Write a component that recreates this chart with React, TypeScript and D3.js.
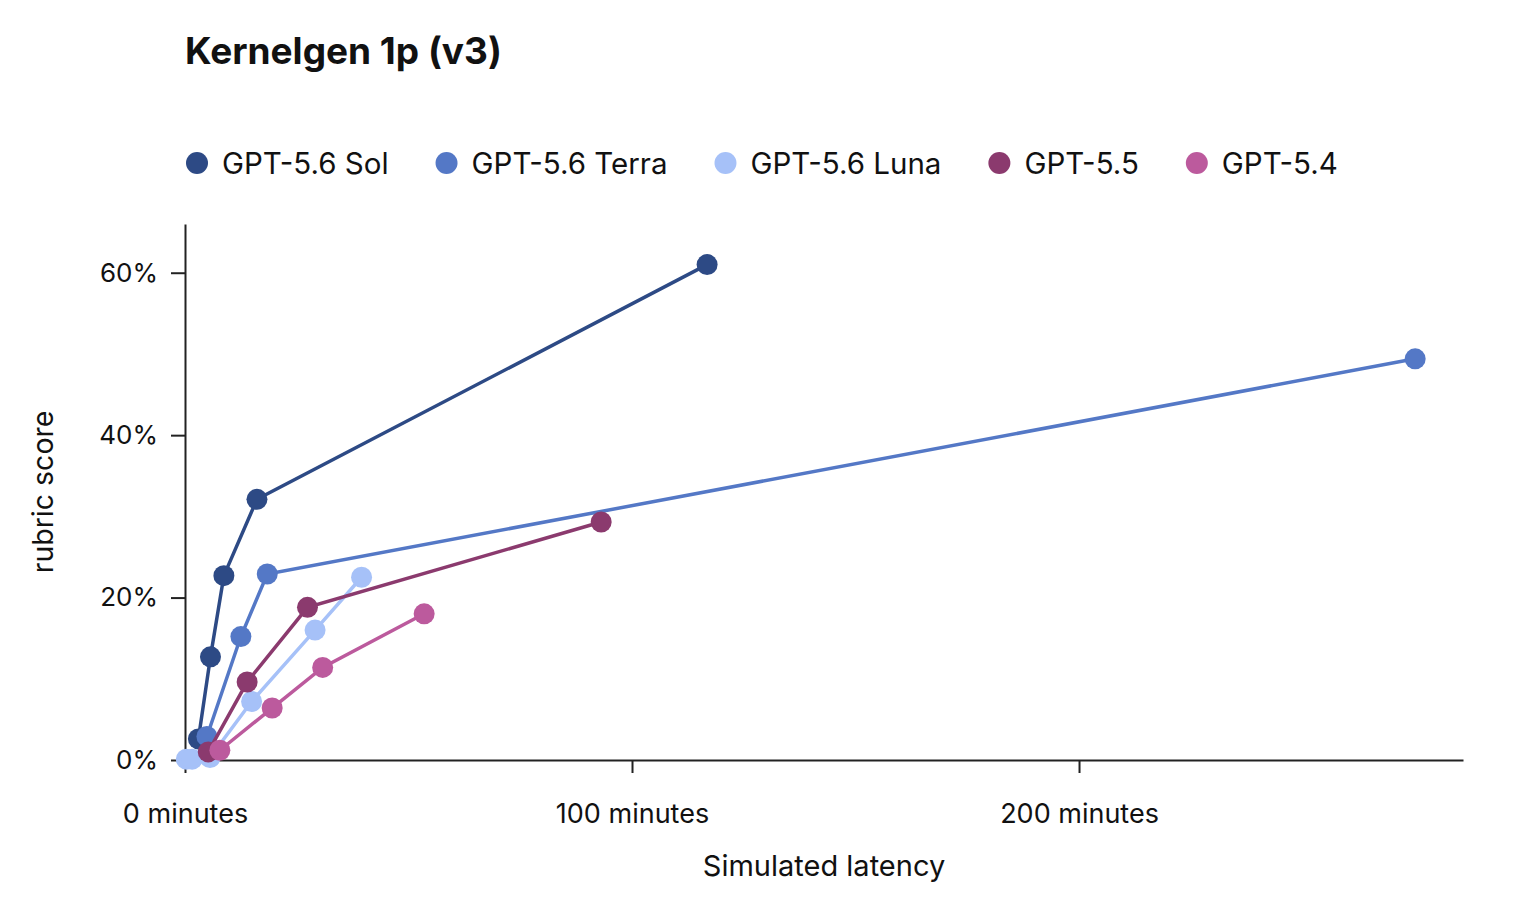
import * as d3 from "d3";
import { useEffect, useRef } from "react";

// Series data (minutes, rubric %)
const seriesNames = ["GPT-5.6 Sol", "GPT-5.6 Terra", "GPT-5.6 Luna", "GPT-5.5", "GPT-5.4"];
const seriesColors = ["#2D4A85", "#5478C6", "#A6C1F8", "#8B3A6E", "#BC5A9D"];

const solMinutes = [3.0, 5.7, 8.7, 16.1, 116.8];
const solScore = [2.6, 12.7, 22.7, 32.1, 61.0];
const terraMinutes = [4.9, 12.5, 18.4, 275.2];
const terraScore = [2.9, 15.2, 22.9, 49.4];
const lunaMinutes = [0.3, 1.6, 5.6, 14.9, 29.1, 39.5];
const lunaScore = [0.1, 0.1, 0.3, 7.2, 16.0, 22.5];
const gpt55Minutes = [5.2, 13.9, 27.4, 93.1];
const gpt55Score = [1.0, 9.6, 18.8, 29.3];
const gpt54Minutes = [7.8, 19.5, 30.8, 53.5];
const gpt54Score = [1.2, 6.4, 11.4, 18.0];

const xTicks = [0, 100, 200];
const yTicks = [0, 20, 40, 60];

const FONT = "Inter, 'Noto Sans', sans-serif";

interface Point {
  x: number;
  y: number;
}

const App = () => {
  const svgRef = useRef<SVGSVGElement | null>(null);

  useEffect(() => {
    if (!svgRef.current) return;

    const width = 1520;
    const height = 900;
    const margin = { top: 224, right: 57, bottom: 140, left: 185 };

    const series = [
      { xs: solMinutes, ys: solScore },
      { xs: terraMinutes, ys: terraScore },
      { xs: lunaMinutes, ys: lunaScore },
      { xs: gpt55Minutes, ys: gpt55Score },
      { xs: gpt54Minutes, ys: gpt54Score },
    ].map((s, i) => ({
      name: seriesNames[i],
      color: seriesColors[i],
      points: s.xs.map((x, j) => ({ x, y: s.ys[j] }) as Point),
    }));

    const xScale = d3
      .scaleLinear()
      .domain([0, 285.9])
      .range([margin.left, width - margin.right]);

    const yScale = d3
      .scaleLinear()
      .domain([0, 66])
      .range([height - margin.bottom, margin.top]);

    const svg = d3.select(svgRef.current);
    svg.selectAll("*").remove();

    // Title
    svg
      .append("text")
      .attr("x", margin.left)
      .attr("y", 64)
      .attr("font-family", FONT)
      .attr("font-size", 37)
      .attr("font-weight", 700)
      .attr("fill", "#111")
      .text("Kernelgen 1p (v3)");

    // Legend
    const legend = svg.append("g").attr("font-family", FONT).attr("font-size", 29.5);
    let lx = 197;
    series.forEach((s) => {
      const g = legend.append("g").attr("transform", `translate(${lx},163)`);
      g.append("circle").attr("r", 11).attr("fill", s.color);
      const t = g
        .append("text")
        .attr("x", 25)
        .attr("dy", "0.36em")
        .attr("fill", "#111")
        .text(s.name);
      const w = (t.node() as SVGTextElement).getComputedTextLength();
      lx += 25 + w + 58;
    });

    // Axes
    const xAxis = svg
      .append("g")
      .attr("transform", `translate(0,${height - margin.bottom})`)
      .call(
        d3
          .axisBottom(xScale)
          .tickValues(xTicks)
          .tickSize(13)
          .tickSizeOuter(0)
          .tickPadding(31)
          .tickFormat((d) => `${d} minutes`)
      );

    const yAxis = svg
      .append("g")
      .attr("transform", `translate(${margin.left},0)`)
      .call(
        d3
          .axisLeft(yScale)
          .tickValues(yTicks)
          .tickSize(14)
          .tickSizeOuter(0)
          .tickPadding(13)
          .tickFormat((d) => `${d}%`)
      );

    [xAxis, yAxis].forEach((ax) => {
      ax.attr("font-family", FONT);
      ax.select(".domain").attr("stroke", "#222").attr("stroke-width", 2);
      ax.selectAll(".tick line").attr("stroke", "#222").attr("stroke-width", 2);
      ax.selectAll(".tick text").attr("fill", "#111");
    });
    xAxis.attr("font-size", 27);
    yAxis.attr("font-size", 26);
    xAxis.selectAll(".tick text").attr("dy", "0.71em");

    // Axis titles
    svg
      .append("text")
      .attr("x", (margin.left + width - margin.right) / 2)
      .attr("y", 866)
      .attr("dy", "0.35em")
      .attr("text-anchor", "middle")
      .attr("font-family", FONT)
      .attr("font-size", 29)
      .attr("fill", "#111")
      .text("Simulated latency");

    svg
      .append("text")
      .attr("transform", `translate(43,492) rotate(-90)`)
      .attr("dy", "0.35em")
      .attr("text-anchor", "middle")
      .attr("font-family", FONT)
      .attr("font-size", 28.5)
      .attr("fill", "#111")
      .text("rubric score");

    // Lines and points
    const line = d3
      .line<Point>()
      .x((d) => xScale(d.x))
      .y((d) => yScale(d.y));

    series.forEach((s) => {
      const g = svg.append("g");
      g.append("path")
        .datum(s.points)
        .attr("fill", "none")
        .attr("stroke", s.color)
        .attr("stroke-width", 3.5)
        .attr("d", line);
      g.selectAll("circle")
        .data(s.points)
        .join("circle")
        .attr("cx", (d) => xScale(d.x))
        .attr("cy", (d) => yScale(d.y))
        .attr("r", 10.5)
        .attr("fill", s.color);
    });
  }, []);

  return (
    <svg
      ref={svgRef}
      width={1520}
      height={900}
      style={{ position: "absolute", left: 0, top: 0, background: "#fff" }}
    ></svg>
  );
};

export default App;
